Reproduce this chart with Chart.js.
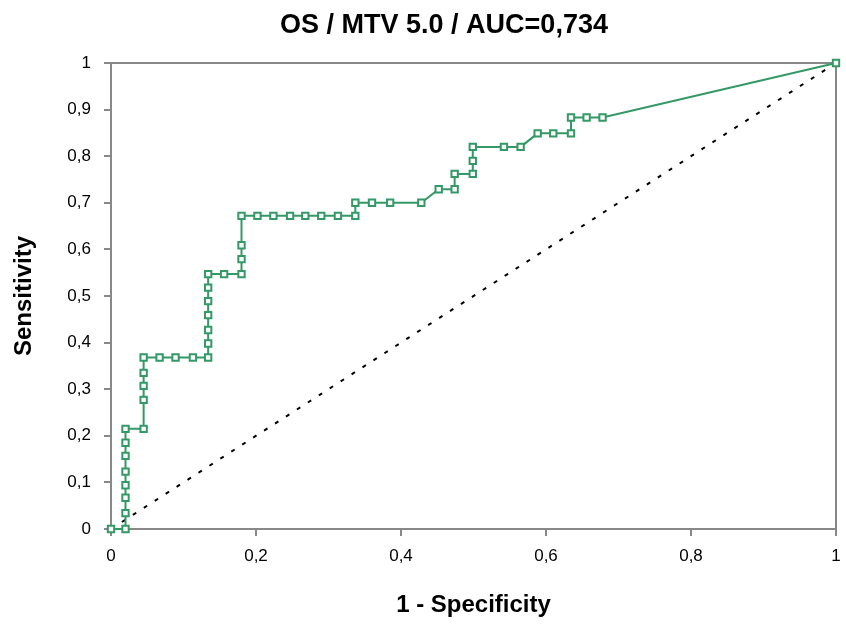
<!DOCTYPE html>
<html>
<head>
<meta charset="utf-8">
<script src="https://cdn.jsdelivr.net/npm/chart.js@4/dist/chart.umd.min.js"></script>
<style>
html,body{margin:0;padding:0;background:#fff;}
#c{display:block;}
</style>
</head>
<body>
<canvas id="c" width="846" height="624"></canvas>
<script>
const chartTitle = "OS / MTV 5.0 / AUC=0,734";
const xAxisTitle = "1 - Specificity";
const yAxisTitle = "Sensitivity";
const xTickLabels = ["0", "0,2", "0,4", "0,6", "0,8", "1"];
const yTickLabels = ["0", "0,1", "0,2", "0,3", "0,4", "0,5", "0,6", "0,7", "0,8", "0,9", "1"];

// ROC curve: 1 - specificity (x) and sensitivity (y)
const rocX = [0, 0.02, 0.02, 0.02, 0.02, 0.02, 0.02, 0.02, 0.02,
  0.045, 0.045, 0.045, 0.045, 0.045,
  0.067, 0.089, 0.113, 0.134, 0.134, 0.134, 0.134, 0.134, 0.134, 0.134,
  0.156, 0.180, 0.180, 0.180, 0.180,
  0.202, 0.224, 0.247, 0.268, 0.290, 0.313, 0.337, 0.337,
  0.360, 0.385, 0.428, 0.452, 0.474, 0.474, 0.499, 0.499, 0.499,
  0.542, 0.565, 0.5885, 0.610, 0.6345, 0.6345, 0.656, 0.678, 1];
const rocY = [0, 0, 0.034, 0.067, 0.094, 0.123, 0.157, 0.185, 0.215,
  0.215, 0.277, 0.307, 0.335, 0.368,
  0.368, 0.368, 0.368, 0.368, 0.398, 0.427, 0.459, 0.489, 0.518, 0.547,
  0.547, 0.547, 0.579, 0.609, 0.672,
  0.672, 0.672, 0.672, 0.672, 0.672, 0.672, 0.672, 0.700,
  0.700, 0.700, 0.700, 0.729, 0.729, 0.762, 0.762, 0.790, 0.820,
  0.820, 0.820, 0.849, 0.849, 0.849, 0.883, 0.883, 0.883, 1];

// Reference diagonal
const diagX = [0, 1];
const diagY = [0, 1];

const GREEN = '#339966';
const GRAY = '#888888';
const FONT = "'Liberation Sans', Arial, sans-serif";

const rocData = rocX.map((x, i) => ({x: x, y: rocY[i]}));
const diagData = diagX.map((x, i) => ({x: x, y: diagY[i]}));

const framePlugin = {
  id: 'frame',
  beforeDatasetsDraw(chart) {
    const {ctx, chartArea: a} = chart;
    ctx.save();
    ctx.strokeStyle = GRAY;
    ctx.lineWidth = 2;
    ctx.beginPath();
    ctx.moveTo(a.left, a.top);
    ctx.lineTo(a.right, a.top);
    ctx.lineTo(a.right, a.bottom);
    ctx.stroke();
    ctx.restore();
  }
};

new Chart(document.getElementById('c'), {
  type: 'scatter',
  data: {
    datasets: [
      {
        data: rocData,
        showLine: true,
        borderColor: GREEN,
        borderWidth: 2,
        pointStyle: 'rect',
        pointRadius: 4.5,
        pointBorderWidth: 2,
        pointBorderColor: GREEN,
        pointBackgroundColor: '#ffffff',
        clip: false,
        tension: 0
      },
      {
        data: diagData,
        showLine: true,
        borderColor: '#000000',
        borderWidth: 2,
        borderDash: [4, 9],
        pointRadius: 0,
        clip: false
      }
    ]
  },
  options: {
    responsive: false,
    animation: false,
    devicePixelRatio: 1,
    layout: {padding: {left: 52, right: 10, top: 0, bottom: 0}},
    plugins: {
      legend: {display: false},
      tooltip: {enabled: false},
      title: {
        display: true,
        text: chartTitle,
        color: '#000',
        font: {family: FONT, size: 27, weight: 'bold'},
        padding: {top: 9.5, bottom: 21.1}
      }
    },
    scales: {
      x: {
        type: 'linear',
        min: 0, max: 1,
        afterFit(s) { s.height = 95; s.paddingLeft = 0; s.paddingRight = 0; },
        border: {display: true, color: GRAY, width: 2},
        grid: {display: true, drawOnChartArea: false, drawTicks: true, tickLength: 7, color: GRAY, lineWidth: 2},
        ticks: {
          stepSize: 0.2,
          padding: 10,
          color: '#000',
          font: {family: FONT, size: 17},
          maxRotation: 0,
          callback: (v, i) => xTickLabels[i]
        },
        title: {
          display: true,
          text: xAxisTitle,
          color: '#000',
          font: {family: FONT, size: 24, weight: 'bold'},
          padding: {top: 0, bottom: 4}
        }
      },
      y: {
        type: 'linear',
        min: 0, max: 1,
        afterFit(s) { s.width = 59; },
        border: {display: true, color: GRAY, width: 2},
        grid: {display: true, drawOnChartArea: false, drawTicks: true, tickLength: 7, color: GRAY, lineWidth: 2},
        ticks: {
          stepSize: 0.1,
          padding: 13,
          color: '#000',
          font: {family: FONT, size: 17},
          callback: (v, i) => yTickLabels[i]
        },
        title: {
          display: true,
          text: yAxisTitle,
          color: '#000',
          font: {family: FONT, size: 24, weight: 'bold'},
          padding: {top: -42.4, bottom: 0}
        }
      }
    }
  },
  plugins: [framePlugin]
});
</script>
</body>
</html>
